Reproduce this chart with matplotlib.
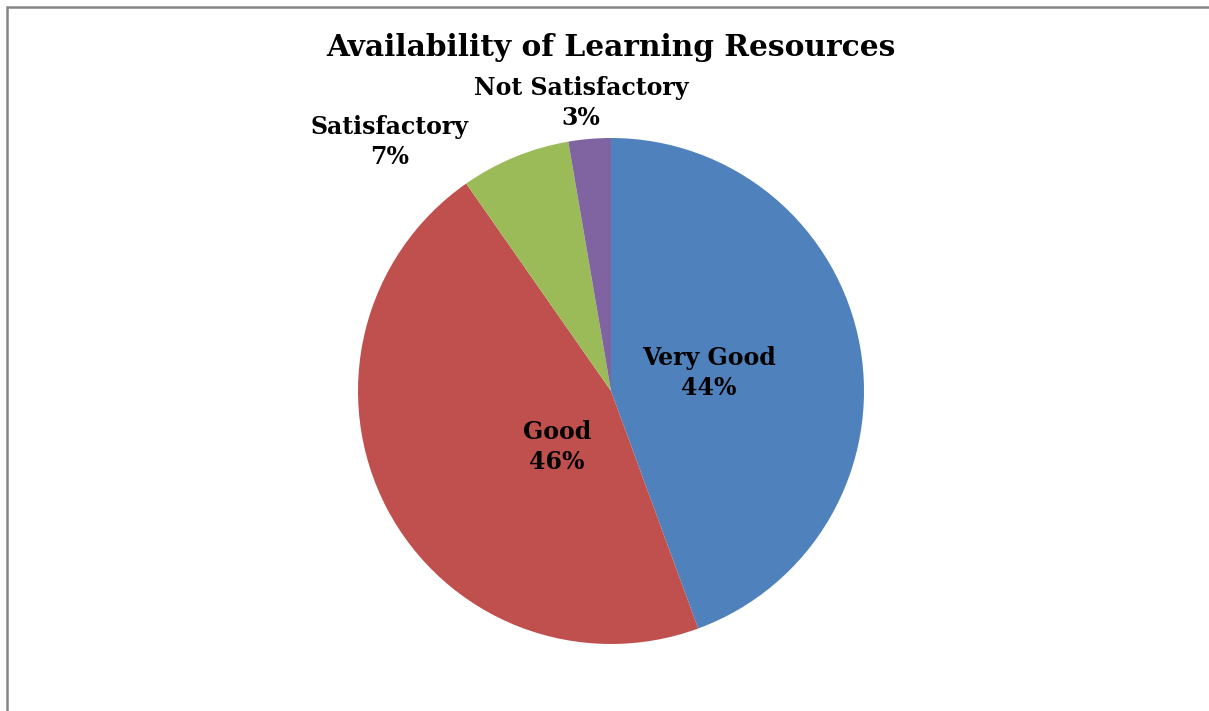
import matplotlib
matplotlib.use("Agg")
import matplotlib.pyplot as plt
from matplotlib.patches import Rectangle

categories = ["Very Good", "Good", "Satisfactory", "Not Satisfactory"]
values = [44.4, 45.9, 7.0, 2.7]
colors = ["#4F81BD", "#C0504D", "#9BBB59", "#8064A2"]
title = "Availability of Learning Resources"

# label positions (data coords, pie radius = 1)
label_pos = [(0.387, 0.071), (-0.213, -0.221), (-0.874, 0.984), (-0.119, 1.138)]

W, H = 1209, 711
fig = plt.figure(figsize=(W / 100, H / 100), dpi=100)
fig.patch.set_facecolor("white")

# outer chart border (gray), extending past right/bottom like the reference
fig.add_artist(Rectangle((6.5 / W, -0.05), 1.2, 1 - 6.5 / H + 0.05,
                         transform=fig.transFigure, fill=False,
                         edgecolor="#868686", linewidth=1.8))

cx, cy, r = 611, 391, 253
ax = fig.add_axes([(cx - r) / W, (H - cy - r) / H, 2 * r / W, 2 * r / H])
ax.pie(values, colors=colors, startangle=90, counterclock=False, radius=1,
       wedgeprops=dict(linewidth=0))
ax.set_xlim(-1, 1)
ax.set_ylim(-1, 1)
ax.set_aspect("auto")
ax.axis("off")

font = "DejaVu Serif"
total = sum(values)
for cat, v, (x, y) in zip(categories, values, label_pos):
    ax.text(x, y, f"{cat}\n{round(100 * v / total):d}%", ha="center", va="center",
            fontsize=17, fontweight="bold", family=font, linespacing=1.35,
            clip_on=False)

fig.text(cx / W, 1 - 47 / H, title, ha="center", va="center", fontsize=21.3,
         fontweight="bold", family=font)

fig.savefig("out.png", dpi=100)
